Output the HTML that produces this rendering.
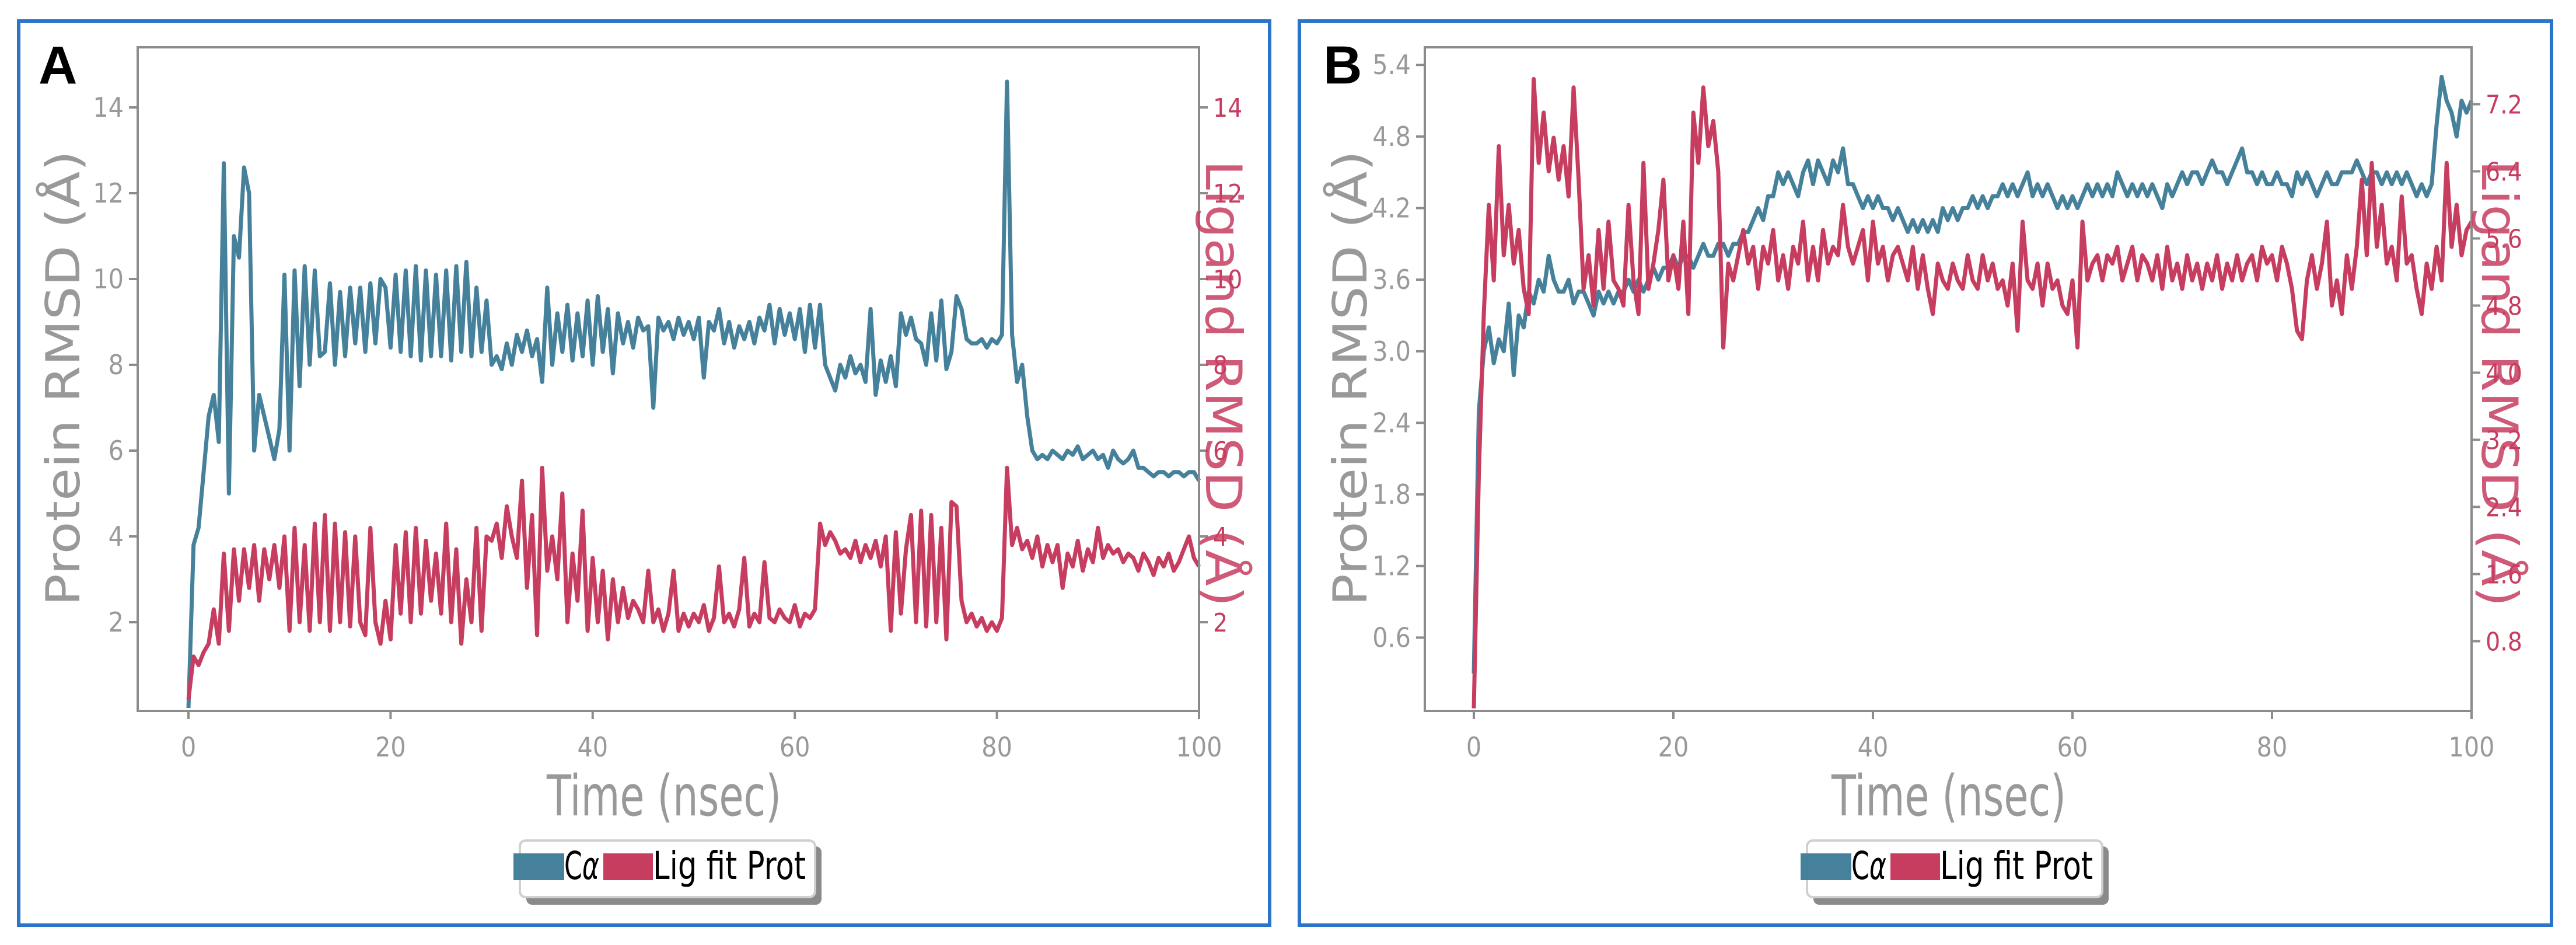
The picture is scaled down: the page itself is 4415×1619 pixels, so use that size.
<!DOCTYPE html>
<html><head><meta charset="utf-8"><style>
html,body{margin:0;padding:0;background:#fff;}
svg{display:block;}
text{font-family:"DejaVu Sans Condensed","DejaVu Sans","Liberation Sans",sans-serif;}
</style></head><body>
<svg id="fig" width="4415" height="1619" viewBox="0 0 4415 1619" xmlns="http://www.w3.org/2000/svg"></svg>
<script>
// ---------- Data ----------
const timeRange = [0, 100];
const xTicks = [0, 20, 40, 60, 80, 100];
const leftTicksA = [2, 4, 6, 8, 10, 12, 14];
const rightTicksA = [2, 4, 6, 8, 10, 12, 14];
const leftTicksB = [0.6, 1.2, 1.8, 2.4, 3.0, 3.6, 4.2, 4.8, 5.4];
const rightTicksB = [0.8, 1.6, 2.4, 3.2, 4.0, 4.8, 5.6, 6.4, 7.2];

const caA = [0,3.8,4.2,5.5,6.8,7.3,6.2,12.7,5.0,11,10.5,12.6,12,6.0,7.3,6.8,6.3,5.8,6.5,10.1,6.0,10.2,7.5,10.3,8.0,10.2,8.2,8.3,9.9,8.0,9.7,8.2,9.8,8.5,9.8,8.3,9.9,8.5,10.0,9.8,
8.4,10.1,8.3,10.2,8.2,10.3,8.1,10.2,8.2,10.1,8.2,10.2,8.1,10.3,8.3,10.4,8.2,9.8,8.3,9.5,8.0,8.2,7.9,8.5,8.0,8.7,8.3,8.8,8.2,8.6,7.6,9.8,8.0,9.2,8.3,9.4,8.1,9.2,8.2,9.5,
8.0,9.6,8.3,9.3,7.8,9.2,8.5,9.0,8.4,9.1,8.8,8.9,7.0,9.1,8.8,9.0,8.6,9.1,8.7,9.0,8.6,9.1,7.7,9.0,8.8,9.3,8.5,9.0,8.4,8.9,8.6,9.0,8.5,9.1,8.8,9.4,8.5,9.3,8.7,9.2,
8.6,9.3,8.3,9.4,8.4,9.4,8.0,7.7,7.4,8.0,7.7,8.2,7.8,8.0,7.6,9.3,7.3,8.1,7.6,8.2,7.5,9.2,8.7,9.1,8.6,8.5,8.0,9.2,8.1,9.5,7.9,8.3,9.6,9.3,8.6,8.5,8.5,8.6,8.4,8.6,
8.5,8.7,14.6,8.7,7.6,8.0,6.8,6.0,5.8,5.9,5.8,6.0,5.9,5.8,6.0,5.9,6.1,5.8,5.9,6.0,5.8,5.9,5.6,6.0,5.8,5.7,5.8,6.0,5.6,5.6,5.5,5.4,5.5,5.5,5.4,5.5,5.5,5.4,5.5,5.5,5.3];
const ligA = [0.2,1.2,1.0,1.3,1.5,2.3,1.5,3.6,1.8,3.7,2.5,3.7,2.8,3.8,2.5,3.7,3.0,3.8,2.8,4.0,1.8,4.2,2.0,3.8,1.8,4.3,2.0,4.5,1.8,4.3,2.0,4.1,1.9,4.0,2.0,1.7,4.2,2.0,1.5,2.5,
1.6,3.8,2.2,4.1,2.0,4.2,2.2,3.9,2.5,3.6,2.2,4.3,2.0,3.7,1.5,3.0,2.0,4.2,1.8,4.0,3.9,4.3,3.5,4.7,4.0,3.5,5.3,2.8,4.5,1.7,5.6,3.2,4.0,3.0,5.0,2.0,3.6,2.5,4.6,1.8,
3.5,2.0,3.2,1.6,3.0,2.0,2.8,2.1,2.5,2.3,2.0,3.2,2.0,2.3,1.8,2.2,3.2,1.8,2.2,1.9,2.2,2.0,2.4,1.8,2.1,3.3,2.0,2.2,1.9,2.3,3.5,1.9,2.2,2.0,3.4,2.1,2.0,2.3,2.1,2.0,
2.4,1.9,2.2,2.1,2.3,4.3,3.8,4.1,3.9,3.6,3.7,3.5,3.9,3.4,3.8,3.5,3.9,3.3,4.0,1.8,4.1,2.2,3.7,4.5,2.0,4.6,1.9,4.5,2.0,4.2,1.6,4.8,4.7,2.5,2.0,2.2,1.9,2.1,1.8,2.0,
1.8,2.1,5.6,3.8,4.2,3.7,3.9,3.5,4.0,3.3,3.8,3.4,3.8,2.8,3.6,3.3,3.9,3.2,3.7,3.4,4.2,3.5,3.8,3.6,3.7,3.4,3.6,3.5,3.2,3.6,3.4,3.1,3.5,3.3,3.6,3.2,3.4,3.7,4.0,3.5,3.3];
const caB = [0.3,2.5,3.0,3.2,2.9,3.1,3.0,3.4,2.8,3.3,3.2,3.5,3.4,3.6,3.5,3.8,3.6,3.5,3.5,3.6,3.4,3.5,3.5,3.4,3.3,3.5,3.4,3.5,3.4,3.5,3.5,3.6,3.5,3.6,3.5,3.6,3.7,3.6,3.7,3.7,
3.8,3.7,3.8,3.8,3.7,3.8,3.9,3.8,3.8,3.9,3.9,3.8,3.9,3.9,4.0,4.0,4.1,4.2,4.1,4.3,4.3,4.5,4.4,4.5,4.4,4.3,4.5,4.6,4.4,4.6,4.5,4.4,4.6,4.5,4.7,4.4,4.4,4.3,4.2,4.3,
4.2,4.3,4.2,4.2,4.1,4.2,4.1,4.0,4.1,4.0,4.1,4.0,4.1,4.0,4.2,4.1,4.2,4.1,4.2,4.2,4.3,4.2,4.3,4.2,4.3,4.3,4.4,4.3,4.4,4.3,4.4,4.5,4.3,4.4,4.3,4.4,4.3,4.2,4.3,4.2,
4.3,4.2,4.3,4.4,4.3,4.4,4.3,4.4,4.3,4.5,4.4,4.3,4.4,4.3,4.4,4.3,4.4,4.3,4.2,4.4,4.3,4.4,4.5,4.4,4.5,4.5,4.4,4.5,4.6,4.5,4.5,4.4,4.5,4.6,4.7,4.5,4.5,4.4,4.5,4.4,
4.4,4.5,4.4,4.4,4.3,4.5,4.4,4.5,4.4,4.3,4.4,4.5,4.4,4.4,4.5,4.5,4.5,4.6,4.5,4.4,4.5,4.5,4.4,4.5,4.4,4.5,4.4,4.5,4.4,4.3,4.4,4.3,4.4,4.9,5.3,5.1,5.0,4.8,5.1,5.0,5.1];
const ligB = [0,2.8,4.7,6.0,5.1,6.7,5.4,6.0,5.3,5.7,5.0,4.7,7.5,6.5,7.1,6.4,6.8,6.3,6.7,6.1,7.4,6.3,5.0,5.4,4.8,5.7,5.0,5.8,5.1,5.0,4.8,6.0,5.1,4.7,6.5,5.0,5.3,5.7,6.3,5.1,
5.4,5.0,5.8,4.7,7.1,6.5,7.4,6.7,7.0,6.4,4.3,5.3,5.1,5.4,5.7,5.3,5.5,5.0,5.5,5.3,5.7,5.1,5.4,5.0,5.5,5.3,5.8,5.1,5.5,5.1,5.7,5.3,5.5,5.4,6.0,5.5,5.3,5.5,5.7,5.1,
5.8,5.3,5.5,5.1,5.4,5.5,5.3,5.1,5.5,5.0,5.4,5.0,4.7,5.3,5.1,5.0,5.3,5.1,5.0,5.4,5.1,5.0,5.4,5.1,5.3,5.0,5.1,4.8,5.3,4.5,5.8,5.1,5.0,5.3,4.8,5.3,5.0,5.1,4.8,4.7,
5.1,4.3,5.8,5.1,5.3,5.4,5.1,5.4,5.3,5.5,5.1,5.3,5.5,5.1,5.4,5.3,5.1,5.4,5.0,5.5,5.1,5.3,5.0,5.4,5.1,5.3,5.0,5.3,5.1,5.4,5.0,5.3,5.1,5.4,5.1,5.3,5.4,5.1,5.5,5.3,
5.4,5.1,5.5,5.3,5.0,4.5,4.4,5.1,5.4,5.0,5.3,5.8,4.8,5.1,4.7,5.4,5.0,5.5,6.3,5.4,6.5,5.5,6.0,5.3,5.5,5.1,6.1,5.3,5.4,5.0,4.7,5.3,5.0,5.5,5.1,6.5,5.5,6.0,5.4,5.7,5.8];

// ---------- Drawing ----------
const NS = "http://www.w3.org/2000/svg";
const svg = document.getElementById("fig");
const BLUE = "#46819b", RED = "#c73d60", GRAY = "#8c8c8c";
function mk(tag, attrs, parent) {
  const e = document.createElementNS(NS, tag);
  for (const k in attrs) e.setAttribute(k, attrs[k]);
  (parent || svg).appendChild(e);
  return e;
}

function panel(cfg) {
  const g = mk("g", {});
  
  
  const fr = mk("rect", {x: cfg.frame[0], y: cfg.frame[1], width: cfg.frame[2], height: cfg.frame[3], fill: "none", stroke: "#2a74c9", "stroke-width": 6}, g);
  
  
  const lbl = mk("text", {x: cfg.letterX, y: 143, "font-size": 92, "font-weight": "bold", fill: "#000", style: "font-family:'Liberation Sans',sans-serif"}, g);
  lbl.textContent = cfg.letter;
  
  

  const X = v => cfg.x0 + (v - timeRange[0]) / (timeRange[1] - timeRange[0]) * (cfg.x100 - cfg.x0);
  const YL = v => cfg.yl0 - v * cfg.ylk;
  const YR = v => cfg.yr0 - v * cfg.yrk;
  const L = cfg.left, R = cfg.right, T = 81, B = 1218;

  function series(vals, Y, color, name) {
    const n = vals.length;
    let d = "";
    vals.forEach((v, i) => {
      const t = timeRange[0] + i * (timeRange[1] - timeRange[0]) / (n - 1);
      d += (i ? "L" : "M") + X(t).toFixed(1) + "," + Y(v).toFixed(1);
    });
    const p = mk("path", {d: d, fill: "none", stroke: color, "stroke-width": 7, "stroke-linejoin": "round"}, g);
    
    
  }
  series(cfg.ca, YL, BLUE, "ca-rmsd-line");
  series(cfg.lig, YR, RED, "ligand-rmsd-line");

  const sp = mk("rect", {x: L, y: T, width: R - L, height: B - T, fill: "none", stroke: GRAY, "stroke-width": 4}, g);
  
  

  xTicks.forEach(v => {
    mk("line", {x1: X(v), x2: X(v), y1: B, y2: B + 14, stroke: GRAY, "stroke-width": 4}, g);
    const t = mk("text", {x: X(v), y: B + 78, "text-anchor": "middle", "font-size": 46, fill: "#999"}, g);
    t.textContent = v;
    
    
  });
  cfg.lt.forEach(v => {
    mk("line", {x1: L - 15, x2: L, y1: YL(v), y2: YL(v), stroke: GRAY, "stroke-width": 4}, g);
    const t = mk("text", {x: L - 24, y: YL(v) + 16, "text-anchor": "end", "font-size": 46, fill: "#999"}, g);
    t.textContent = cfg.ltFmt(v);
    
    
  });
  cfg.rt.forEach(v => {
    mk("line", {x1: R, x2: R + 15, y1: YR(v), y2: YR(v), stroke: GRAY, "stroke-width": 4}, g);
    const t = mk("text", {x: R + 24, y: YR(v) + 16, "text-anchor": "start", "font-size": 44, fill: RED}, g);
    t.textContent = cfg.rtFmt(v);
    
    
  });

  const lt = mk("text", {x: 0, y: 0, transform: `translate(${L - 100},648) rotate(-90)`, "text-anchor": "middle", "font-size": 80, fill: "#999", textLength: 780, lengthAdjust: "spacingAndGlyphs", style: "font-family:'DejaVu Sans',sans-serif"}, g);
  lt.textContent = "Protein RMSD (Å)";
  
  
  const rtt = mk("text", {x: 0, y: 0, transform: `translate(${R + cfg.rtOff},657) rotate(90)`, "text-anchor": "middle", "font-size": 86, fill: RED, "fill-opacity": 0.85, textLength: 765, lengthAdjust: "spacingAndGlyphs", style: "font-family:'DejaVu Sans',sans-serif"}, g);
  rtt.textContent = "Ligand RMSD (Å)";
  
  
  const xt = mk("text", {x: cfg.xtX, y: 1397, "text-anchor": "middle", "font-size": 96, fill: "#999", textLength: 402, lengthAdjust: "spacingAndGlyphs"}, g);
  xt.textContent = "Time (nsec)";
  
  

  const lx = cfg.legX;
  const lg = mk("g", {}, g);
  
  
  mk("rect", {x: lx + 14, y: 1450, width: 506, height: 100, rx: 10, fill: "#8a8a8a"}, lg);
  mk("rect", {x: lx + 3, y: 1440, width: 506, height: 97, rx: 10, fill: "#fff", stroke: "#d0d0d0", "stroke-width": 4}, lg);
  const s1 = mk("rect", {x: lx - 8, y: 1462, width: 87, height: 46, fill: BLUE}, lg);
  
  
  const t1 = mk("text", {x: lx + 79, y: 1506, "font-size": 66, fill: "#000", textLength: 60, lengthAdjust: "spacingAndGlyphs"}, lg);
  t1.innerHTML = 'C<tspan font-style="italic">α</tspan>';
  
  
  const s2 = mk("rect", {x: lx + 146, y: 1462, width: 85, height: 46, fill: RED}, lg);
  
  
  const t2 = mk("text", {x: lx + 231, y: 1506, "font-size": 66, fill: "#000", textLength: 262, lengthAdjust: "spacingAndGlyphs"}, lg);
  t2.textContent = "Lig fit Prot";
  
  
}

panel({name: "panel-a", letter: "A", letterX: 66, frame: [32, 36, 2144, 1549],
  left: 236, right: 2055, x0: 323, x100: 2055,
  yl0: 1213, ylk: 73.5, yr0: 1213, yrk: 73.5,
  ca: caA, lig: ligA, lt: leftTicksA, rt: rightTicksA, rtOff: 12, xtX: 1138,
  ltFmt: v => String(v), rtFmt: v => String(v), legX: 888});
panel({name: "panel-b", letter: "B", letterX: 2268, frame: [2227, 36, 2146, 1549],
  left: 2442, right: 4236, x0: 2526, x100: 4236,
  yl0: 1215, ylk: 204.4, yr0: 1213.5, yrk: 143.75,
  ca: caB, lig: ligB, lt: leftTicksB, rt: rightTicksB, rtOff: 18, xtX: 3340,
  ltFmt: v => v.toFixed(1), rtFmt: v => v.toFixed(1), legX: 3094});
</script>
</body></html>
